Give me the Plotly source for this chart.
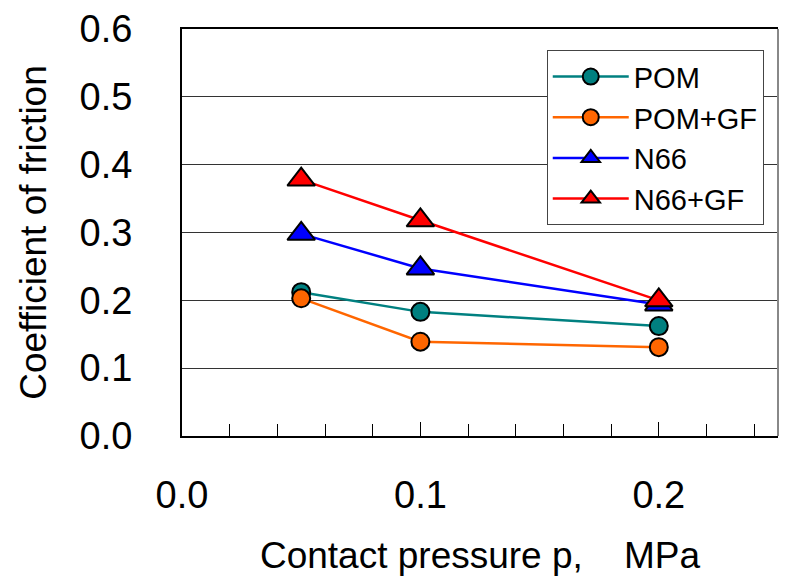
import plotly.graph_objects as go

# Contact pressure (MPa) and measured friction coefficients
pressure = [0.05, 0.1, 0.2]
pom = [0.212, 0.183, 0.162]
pom_gf = [0.203, 0.139, 0.131]
n66 = [0.298, 0.247, 0.194]
n66_gf = [0.378, 0.318, 0.200]

series = [
    ("POM", pom, "#008080", "circle"),
    ("POM+GF", pom_gf, "#FF6600", "circle"),
    ("N66", n66, "#0000FF", "triangle-up"),
    ("N66+GF", n66_gf, "#FF0000", "triangle-up"),
]

FONT = "Liberation Sans, Arial, sans-serif"

fig = go.Figure()
for i, (name, vals, color, sym) in enumerate(series):
    fig.add_trace(go.Scatter(
        x=pressure, y=vals, name=name, mode="lines+markers",
        legendgroup=f"g{i}",
        line=dict(color=color, width=2.5),
        marker=dict(symbol=sym, color=color,
                    size=18 if sym == "circle" else 24,
                    line=dict(color="black", width=2)),
    ))

fig.update_layout(
    width=786, height=582,
    margin=dict(l=182, r=8, t=21, b=146),
    paper_bgcolor="white", plot_bgcolor="white",
    font=dict(family=FONT, color="black"),
    showlegend=True,
    legend=dict(
        x=0.612, y=0.948, xanchor="left", yanchor="top",
        bgcolor="white", bordercolor="#444", borderwidth=1,
        font=dict(size=29, family=FONT),
        tracegroupgap=0, itemwidth=76,
    ),
    xaxis=dict(
        range=[0, 0.25], dtick=0.1, tick0=0, tickformat=".1f",
        ticks="inside", ticklen=14, tickcolor="black", tickwidth=1,
        minor=dict(dtick=0.02, ticks="inside", ticklen=12,
                   tickcolor="black", tickwidth=1, showgrid=False),
        showgrid=False, zeroline=False,
        showline=True, linecolor="black", linewidth=2, mirror=True,
        tickfont=dict(size=38), ticklabelstandoff=24,
        title=dict(text="Contact pressure p,    MPa", font=dict(size=37),
                   standoff=28),
    ),
    yaxis=dict(
        range=[0, 0.6], dtick=0.1, tickformat=".1f",
        ticks="", showgrid=True, gridcolor="#333", gridwidth=1,
        zeroline=False,
        showline=True, linecolor="black", linewidth=2,
        tickfont=dict(size=38), ticklabelstandoff=40,
        title=dict(text="Coefficient of friction", font=dict(size=37),
                   standoff=22),
    ),
)

# right frame edge drawn in grey
fig.add_shape(type="line", xref="paper", yref="paper",
              x0=1, x1=1, y0=0, y1=1,
              line=dict(color="#888", width=2))

fig.write_html("out.html")
